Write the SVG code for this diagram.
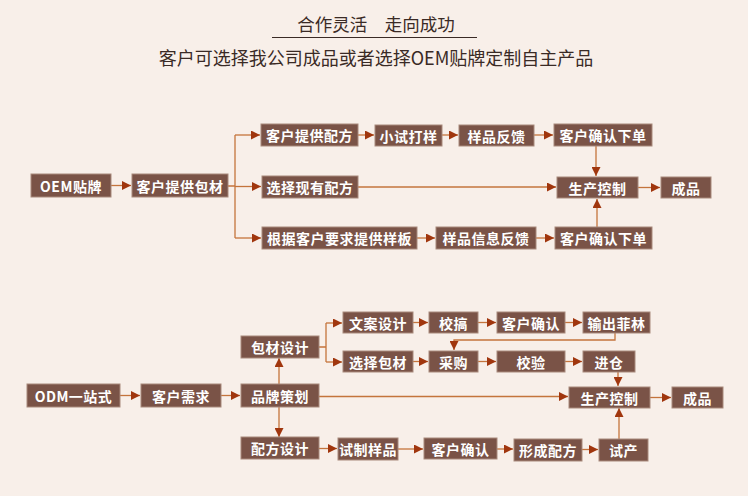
<svg xmlns="http://www.w3.org/2000/svg" width="748" height="496" viewBox="0 0 748 496">
<defs>
<marker id="ah" viewBox="0 0 10 10" refX="10" refY="5" markerWidth="10" markerHeight="9" markerUnits="userSpaceOnUse" orient="auto">
<path d="M0,0 L10,5 L0,10 Z" fill="#a0360e"/>
</marker>
<style>
.b rect{fill:#7a5347;stroke:#a88a7c;stroke-width:1}
.b text{fill:#ffffff;font-family:"Noto Sans CJK SC","Noto Sans",sans-serif;font-weight:bold;font-size:14px;text-anchor:middle;dominant-baseline:central;letter-spacing:0.5px}
.c path{fill:none;stroke:#c4743c;stroke-width:1.3}
.c .a{marker-end:url(#ah)}
.t{font-family:"Noto Sans CJK SC",sans-serif;fill:#3a2a25;text-anchor:middle;dominant-baseline:central}
</style>
</defs>
<rect width="748" height="496" fill="#f8efe9"/>
<text class="t" x="376" y="23" font-size="17.5">合作灵活　走向成功</text>
<line x1="272" y1="37.5" x2="477" y2="37.5" stroke="#3a2a25" stroke-width="1.2"/>
<text class="t" x="376" y="57" font-size="18">客户可选择我公司成品或者选择OEM贴牌定制自主产品</text>

<g class="c" id="connectors">
<path class="a" d="M111,185.5 H131"/>
<path d="M228,186 H235 M235,135 V238"/>
<path class="a" d="M235,135 H260"/>
<path class="a" d="M235,186.5 H261"/>
<path class="a" d="M235,238 H261"/>
<path class="a" d="M358,135 H374"/>
<path class="a" d="M442,135 H458"/>
<path class="a" d="M534,135 H553"/>
<path class="a" d="M358,187 H556"/>
<path class="a" d="M596,146 V176"/>
<path class="a" d="M597,227 V199"/>
<path class="a" d="M638,187.5 H660"/>
<path class="a" d="M417,238 H435"/>
<path class="a" d="M536,238 H554"/>

<path class="a" d="M120,395.5 H140"/>
<path class="a" d="M221,395.5 H240"/>
<path class="a" d="M279,384 V358"/>
<path class="a" d="M279,407 V437"/>
<path class="a" d="M319,396.5 H568"/>
<path d="M319,347 H326 M326,323 V362"/>
<path class="a" d="M326,323 H342"/>
<path class="a" d="M326,362 H342"/>
<path class="a" d="M413,322.5 H428"/>
<path class="a" d="M478,322.5 H496"/>
<path class="a" d="M565,322.5 H582"/>
<path class="a" d="M615,333 V340 H454 V350"/>
<path class="a" d="M413,361.5 H428"/>
<path class="a" d="M478,361.5 H496"/>
<path class="a" d="M565,361.5 H582"/>
<path class="a" d="M618,372 V386"/>
<path class="a" d="M650,397.5 H671"/>
<path class="a" d="M319,448.5 H337"/>
<path class="a" d="M398,449 H423"/>
<path class="a" d="M497,449 H513"/>
<path class="a" d="M582,449.5 H598"/>
<path class="a" d="M619,439 V408"/>
</g>

<g class="b" id="n1"><rect x="31" y="174" width="80" height="23"/><text x="71" y="185.5" font-family="'DejaVu Sans','Noto Sans CJK SC',sans-serif">OEM贴牌</text></g>
<g class="b" id="n2"><rect x="132" y="174" width="96" height="23"/><text x="180" y="185.5">客户提供包材</text></g>
<g class="b" id="n3"><rect x="261" y="124" width="97" height="22"/><text x="309.5" y="135">客户提供配方</text></g>
<g class="b" id="n4"><rect x="262" y="176" width="96" height="22"/><text x="310" y="187">选择现有配方</text></g>
<g class="b" id="n5"><rect x="262" y="227" width="155" height="22"/><text x="339.5" y="238">根据客户要求提供样板</text></g>
<g class="b" id="n6"><rect x="375" y="125" width="67" height="21"/><text x="408.5" y="135.5">小试打样</text></g>
<g class="b" id="n7"><rect x="459" y="125" width="75" height="21"/><text x="496.5" y="135.5">样品反馈</text></g>
<g class="b" id="n8"><rect x="554" y="124" width="98" height="22"/><text x="603" y="135">客户确认下单</text></g>
<g class="b" id="n9"><rect x="557" y="177" width="81" height="21"/><text x="597.5" y="187.5">生产控制</text></g>
<g class="b" id="n10"><rect x="661" y="177" width="50" height="21"/><text x="686" y="187.5">成品</text></g>
<g class="b" id="n11"><rect x="436" y="227" width="100" height="22"/><text x="486" y="238">样品信息反馈</text></g>
<g class="b" id="n12"><rect x="555" y="227" width="97" height="22"/><text x="603.5" y="238">客户确认下单</text></g>

<g class="b" id="m1"><rect x="27" y="384" width="93" height="23"/><text x="73.5" y="395.5" font-family="'DejaVu Sans','Noto Sans CJK SC',sans-serif">ODM一站式</text></g>
<g class="b" id="m2"><rect x="141" y="384" width="80" height="23"/><text x="181" y="395.5">客户需求</text></g>
<g class="b" id="m3"><rect x="241" y="384" width="78" height="23"/><text x="280" y="395.5">品牌策划</text></g>
<g class="b" id="m4"><rect x="241" y="336" width="78" height="22"/><text x="280" y="347">包材设计</text></g>
<g class="b" id="m5"><rect x="241" y="437" width="78" height="22"/><text x="280" y="448">配方设计</text></g>
<g class="b" id="m6"><rect x="343" y="312" width="70" height="21"/><text x="378" y="322.5">文案设计</text></g>
<g class="b" id="m7"><rect x="343" y="351" width="70" height="21"/><text x="378" y="361.5">选择包材</text></g>
<g class="b" id="m8"><rect x="429" y="312" width="49" height="21"/><text x="453.5" y="322.5">校搞</text></g>
<g class="b" id="m9"><rect x="497" y="312" width="68" height="21"/><text x="531" y="322.5">客户确认</text></g>
<g class="b" id="m10"><rect x="583" y="312" width="67" height="21"/><text x="616.5" y="322.5">输出菲林</text></g>
<g class="b" id="m11"><rect x="429" y="351" width="49" height="21"/><text x="453.5" y="361.5">采购</text></g>
<g class="b" id="m12"><rect x="497" y="351" width="68" height="21"/><text x="531" y="361.5">校验</text></g>
<g class="b" id="m13"><rect x="583" y="351" width="52" height="21"/><text x="609" y="361.5">进仓</text></g>
<g class="b" id="m14"><rect x="569" y="387" width="81" height="21"/><text x="609.5" y="397.5">生产控制</text></g>
<g class="b" id="m15"><rect x="672" y="387" width="51" height="21"/><text x="697.5" y="397.5">成品</text></g>
<g class="b" id="m16"><rect x="338" y="438" width="60" height="22"/><text x="368" y="449">试制样品</text></g>
<g class="b" id="m17"><rect x="424" y="438" width="73" height="21"/><text x="460.5" y="448.5">客户确认</text></g>
<g class="b" id="m18"><rect x="514" y="439" width="68" height="22"/><text x="548" y="450">形成配方</text></g>
<g class="b" id="m19"><rect x="599" y="439" width="49" height="22"/><text x="623.5" y="450">试产</text></g>
</svg>
